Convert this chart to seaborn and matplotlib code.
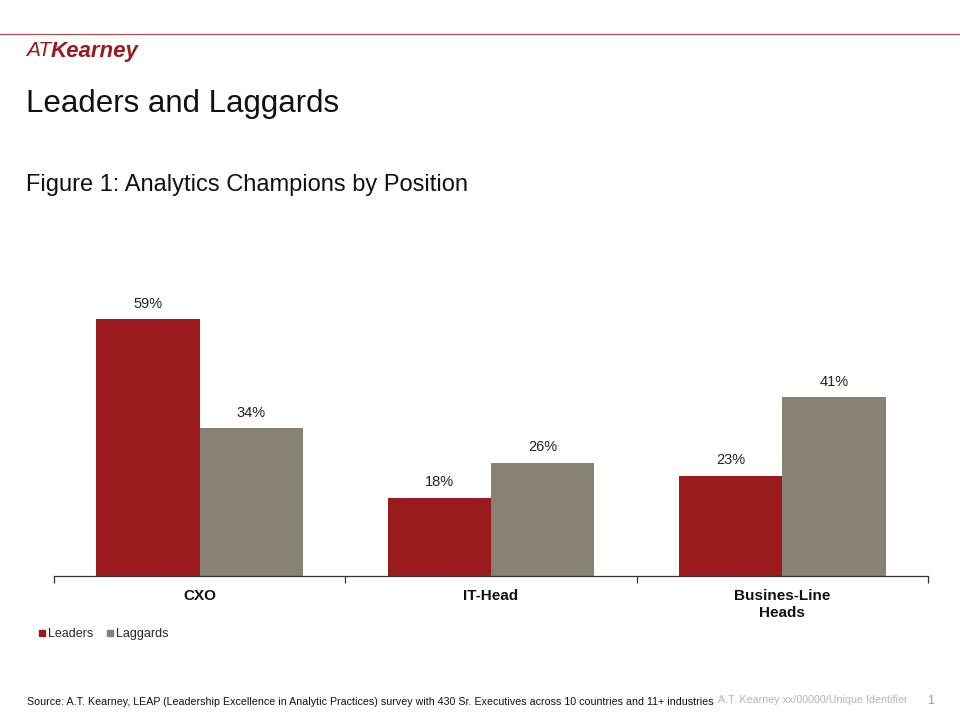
import matplotlib
matplotlib.use("Agg")
import matplotlib.pyplot as plt
import seaborn as sns
import pandas as pd
from matplotlib.lines import Line2D

categories = ["CXO", "IT-Head", "Busines-Line\nHeads"]
leaders = [59, 18, 23]
laggards = [34, 26, 41]
series_names = ["Leaders", "Laggards"]
colors = ["#9B1A1D", "#878273"]

df = pd.DataFrame({
    "Position": categories * 2,
    "Value": leaders + laggards,
    "Group": [series_names[0]] * 3 + [series_names[1]] * 3,
})

sns.set_theme(style="white")
plt.rcParams['font.family'] = ['Liberation Sans', 'DejaVu Sans']

fig = plt.figure(figsize=(9.6, 7.2), dpi=100)
ax = fig.add_axes([54 / 960, 0.2, (928 - 54) / 960, 305 / 720])

sns.barplot(data=df, x="Position", y="Value", hue="Group", palette=colors,
            width=0.71, ax=ax, legend=False, saturation=1, edgecolor="none")

for cont in ax.containers:
    ax.bar_label(cont, labels=[f"{v:.0f}%" for v in cont.datavalues],
                 padding=6, fontsize=10.5, color="#222222")

ax.set_ylim(0, 70)
ax.set_xlim(-0.5, 2.5)
ax.set_yticks([])
ax.set_xlabel("")
ax.set_ylabel("")
for s in ["top", "right", "left"]:
    ax.spines[s].set_visible(False)
ax.spines["bottom"].set_color("#333333")
ax.spines["bottom"].set_linewidth(0.9)
ax.set_xticks([-0.5, 0.5, 1.5, 2.5], minor=True)
ax.tick_params(axis="x", which="minor", length=5, color="#333333", width=0.9, bottom=True)
ax.tick_params(axis="x", which="major", length=0, pad=9)
for lbl in ax.get_xticklabels():
    lbl.set_fontweight("bold")
    lbl.set_fontsize(11)
    lbl.set_color("#111111")
    lbl.set_linespacing(1.3)

# Legend
handles = [Line2D([], [], marker="s", linestyle="none", markersize=5,
                  markerfacecolor=c, markeredgecolor=c) for c in colors]
fig.legend(handles, series_names, loc="upper left", bbox_to_anchor=(37 / 960, 1 - 628 / 720),
           frameon=False, ncol=2, fontsize=9, handletextpad=0.1, columnspacing=0.9,
           borderaxespad=0, borderpad=0, handlelength=0.8)

# Header line and logo
fig.add_artist(Line2D([0, 1], [1 - 34 / 720, 1 - 34 / 720], color="#A8504F", linewidth=0.9))
fig.text(26 / 960, 1 - 51 / 720, "AT", fontsize=15, color="#9B1A1D", style="italic",
         fontweight="light", va="center", ha="left")
fig.text(51 / 960, 1 - 51 / 720, "Kearney", fontsize=16, color="#9B1A1D", style="italic",
         fontweight="bold", va="center", ha="left")

fig.text(26 / 960, 1 - 104 / 720, "Leaders and Laggards", fontsize=22.5, color="#111111",
         va="center", ha="left")
fig.text(26 / 960, 1 - 185 / 720, "Figure 1: Analytics Champions by Position", fontsize=17,
         color="#111111", va="center", ha="left")

fig.text(27 / 960, 1 - 702 / 720,
         "Source: A.T. Kearney, LEAP (Leadership Excellence in Analytic Practices) survey with 430 Sr. Executives across 10 countries and 11+ industries",
         fontsize=7.7, color="#111111", va="center", ha="left")
fig.text(718 / 960, 1 - 700 / 720, "A.T. Kearney xx/00000/Unique Identifier", fontsize=7.7,
         color="#B5B5B5", va="center", ha="left")
fig.text(934 / 960, 1 - 701 / 720, "1", fontsize=9, color="#999999", va="center", ha="right")

fig.savefig("out.png", dpi=100)
